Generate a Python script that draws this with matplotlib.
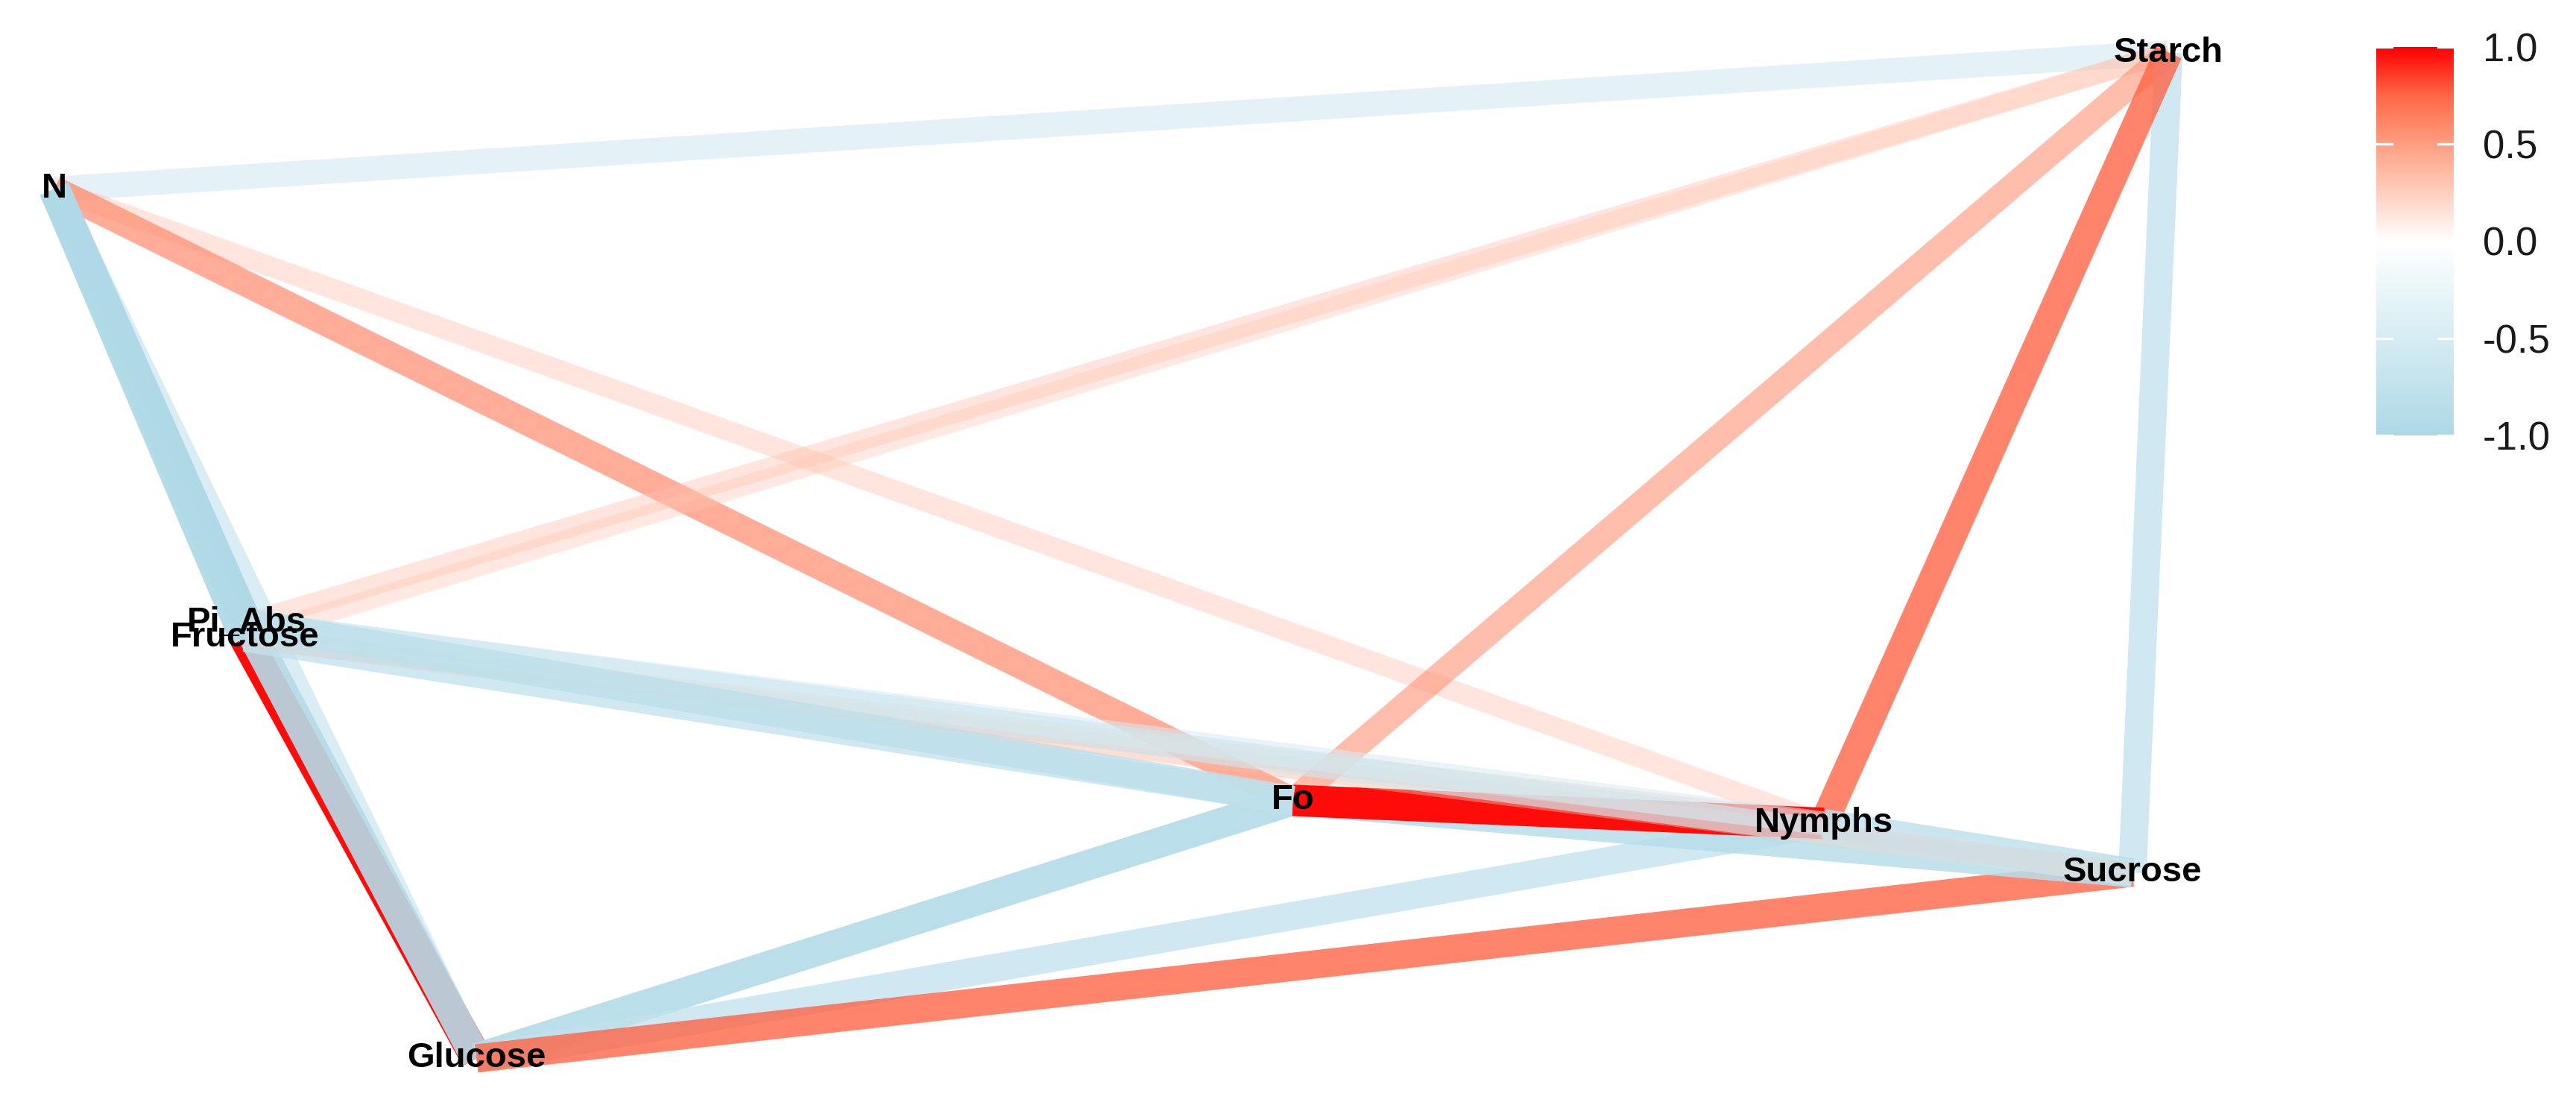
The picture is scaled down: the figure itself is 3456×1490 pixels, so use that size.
import numpy as np
import matplotlib
matplotlib.use("Agg")
import matplotlib.pyplot as plt
from matplotlib.colors import LinearSegmentedColormap, Normalize
from matplotlib.cm import ScalarMappable

# node layout (layout units)
nodes = ["N", "Starch", "Pi_Abs", "Fructose", "Fo", "Nymphs", "Sucrose", "Glucose"]
node_x = [33, 1320, 150, 149, 787, 1110, 1298, 290]
node_y = [115, 32, 379, 388, 487, 501, 531, 644]

# correlations drawn as edges, in drawing order
edge_from = ["N", "N", "N", "Starch", "Starch", "Starch", "Starch", "Starch",
             "N", "Fructose", "Pi_Abs", "N", "N", "Fo", "Nymphs", "Sucrose",
             "Fo", "Fo", "Nymphs", "Fructose", "Fructose", "Pi_Abs", "Fructose",
             "Pi_Abs", "Pi_Abs"]
edge_to = ["Starch", "Nymphs", "Fo", "Pi_Abs", "Fructose", "Fo", "Sucrose", "Nymphs",
           "Glucose", "Glucose", "Glucose", "Pi_Abs", "Fructose", "Glucose", "Glucose", "Glucose",
           "Sucrose", "Nymphs", "Sucrose", "Nymphs", "Sucrose", "Nymphs", "Fo",
           "Sucrose", "Fo"]
edge_r = [-0.55, 0.33, 0.62, 0.33, 0.30, 0.55, -0.75, 0.76,
          -0.65, 0.98, -0.90, -0.97, -0.95, -0.90, -0.75, 0.76,
          -0.85, 0.98, -0.80, 0.35, 0.38, -0.50, -0.75,
          -0.60, -0.80]

cbar_ticks = [-1.0, -0.5, 0.0, 0.5, 1.0]
cbar_labels = ["-1.0", "-0.5", "0.0", "0.5", "1.0"]

cmap = LinearSegmentedColormap.from_list(
    "corr", [(0.0, "#ADD8E6"), (0.25, "#D6ECF3"), (0.5, "#FFFFFF"),
             (0.625, "#FFCFBE"), (0.75, "#FF9E81"), (0.875, "#FF6846"), (1.0, "#FF0000")])
norm = Normalize(-1, 1)

fig = plt.figure(figsize=(17.28, 7.45), dpi=200)
ax = fig.add_axes([0, 0, 1, 1])
ax.set_xlim(0, 1568)
ax.set_ylim(676, 0)
ax.axis("off")

pos = {n: (x, y) for n, x, y in zip(nodes, node_x, node_y)}
for a, b, r in zip(edge_from, edge_to, edge_r):
    x1, y1 = pos[a]
    x2, y2 = pos[b]
    ar = abs(r)
    ax.plot([x1, x2], [y1, y2], color=cmap(norm(r)), alpha=0.1 + 0.9 * ar,
            lw=2.55 * (1 + 5 * np.sqrt(ar)), solid_capstyle="butt", zorder=2)

for n in nodes:
    x, y = pos[n]
    ax.text(x, y, n, ha="center", va="center", fontsize=17, fontweight="bold",
            family="Liberation Sans", color="black", zorder=5)

# colour bar
cax = fig.add_axes([0.9225, 0.608, 0.030, 0.350])
cb = fig.colorbar(ScalarMappable(norm=norm, cmap=cmap), cax=cax, ticks=cbar_ticks)
cb.outline.set_visible(False)
cb.ax.set_yticklabels(cbar_labels)
cax.tick_params(length=0, pad=14, labelsize=19, labelcolor="#1a1a1a")
for lab in cax.get_yticklabels():
    lab.set_family("Liberation Sans")
for t in cbar_ticks:
    cax.plot([0, 0.2], [t, t], color="white", lw=1.2, transform=cax.get_yaxis_transform())
    cax.plot([0.8, 1], [t, t], color="white", lw=1.2, transform=cax.get_yaxis_transform())

fig.savefig("out.png", dpi=200, facecolor="white")
